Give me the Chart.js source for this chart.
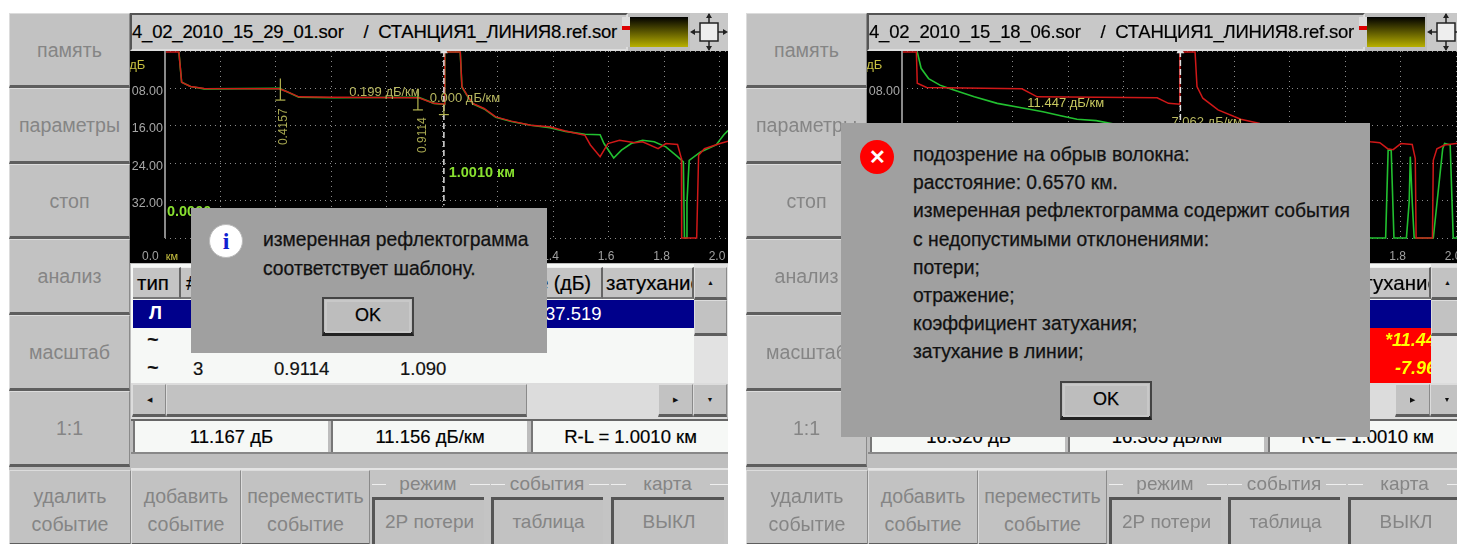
<!DOCTYPE html>
<html lang="ru"><head><meta charset="utf-8">
<style>
html,body{margin:0;padding:0;background:#fff;width:1457px;height:544px;overflow:hidden}
#root{position:absolute;left:0;top:0;width:1457px;height:544px;filter:blur(.55px);font-family:"Liberation Sans",Arial,sans-serif}
.a{position:absolute;box-sizing:border-box;white-space:nowrap}
.btn{background:#c2c2c2;border-top:1px solid #dcdcdc;border-left:1px solid #dcdcdc;border-right:1px solid #8a8a8a;border-bottom:3px solid #5e5e5e;color:#858585;font-size:19.6px;display:flex;align-items:center;justify-content:center;text-align:center;line-height:28px}
.cell{background:#c4c4c4;border-top:1px solid #eee;border-right:2px solid #666;border-bottom:2px solid #777;color:#000;font-size:20.5px;-webkit-text-stroke:.2px #000}
.t{color:#111;font-size:18.5px;line-height:22px;-webkit-text-stroke:.2px #111}
.d{color:#111;font-size:19.3px;line-height:22px;-webkit-text-stroke:.25px #111}
.ok{background:#bdbdbd;border:2px solid #444;border-bottom:4px solid #222;outline:2px solid #c8c8c8;outline-offset:-5px;color:#000;font-size:18px;display:flex;align-items:center;justify-content:center;-webkit-text-stroke:.25px #000}
</style></head><body><div id="root"></div>
<script src="https://cdn.jsdelivr.net/npm/chart.js@4/dist/chart.umd.min.js"></script>
<script>
// --- Data ---
const kmTicksStep = 0.2;
const dbTicks = [8, 16, 24, 32];
const leftRedKm   = [0,0.05,0.06,0.092,0.141,0.412,0.44,0.482,0.607,0.914,0.969,1.008,1.008,1.064,1.07,1.088,1.109,1.15,1.192,1.248,1.318,1.387,1.443,1.513,1.533,1.568,1.596,1.638,1.694,1.721,1.777,1.805,1.847,1.861,1.862,1.916,1.923,1.944,2.0,2.029];
const leftRedDb   = [0.2,0.2,6.7,7.6,8.0,8.1,8.7,9.8,9.9,10.0,11.2,11.4,0.2,0.2,7.6,9.4,11.2,12.3,14.1,15.0,15.9,16.2,17.1,18.0,20.1,22.6,19.8,19.1,19.6,19.4,20.9,19.8,20.0,23.0,40,40,22.3,20.9,19.8,19.3];
const leftGreenKm = [0.05,0.06,0.092,0.141,0.412,0.44,0.482,0.607,0.914,0.969,1.008,1.008,1.064,1.07,1.088,1.109,1.15,1.192,1.248,1.318,1.387,1.443,1.513,1.568,1.582,1.617,1.645,1.68,1.721,1.763,1.805,1.847,1.868,1.872,1.879,1.881,1.889,1.93,1.986,2.014,2.029];
const leftGreenDb = [0.2,6.7,7.6,8.1,8.0,8.7,9.9,10.0,9.9,11.2,11.4,0.2,0.2,7.7,9.5,11.3,12.4,14.2,15.1,15.9,16.4,17.2,17.8,17.9,19.8,22.9,21.2,19.8,19.1,19.4,20.5,22.6,23.7,40,40,32.3,23.4,21.6,20.1,17.9,17];
const rightRedKm  = [0,0.052,0.055,0.089,0.433,0.488,0.921,0.962,1.003,1.003,1.058,1.065,1.086,1.141,1.223,1.292,1.691,1.725,1.753,1.773,1.801,1.842,1.853,1.856,1.915,1.918,1.931,1.959,2.0,2.004];
const rightRedDb  = [0.2,0.2,6.9,7.8,8.1,9.8,10,11.2,11.4,0.2,0.2,7.6,10.1,12.6,14.6,15.5,19.4,19.6,20.9,21.1,19.8,20,23,40,40,23.4,20.9,20.1,19.8,19.8];
const rightGreenKm= [0.055,0.069,0.096,0.137,0.179,0.261,0.344,0.426,0.509,0.577,0.632,0.701,0.756,0.9,1.691,1.746,1.755,1.766,1.776,1.821,1.831,1.835,1.842,1.849,1.918,1.952,1.959,1.979,1.99,2.004];
const rightGreenDb= [0.2,3.7,5.9,7.3,8.2,9.8,11.2,12.1,13,13.9,14.6,14.9,15.5,17,40,40,21.2,21.2,40,40,32.3,22.6,32.3,40,40,20.9,19.8,20.1,40,40];
const cursorKm = 1.005;
const cursorTopDb = [0, 0];
const cursorEndDb = [33, 33];
const markerKm = [0.4157, 0.9114, 1.005];
const markerTopDb = [5.9, 8.0, 11.4];
const markerEndDb = [10.5, 12.6, 13.6];
const sideLabels = ["память","параметры","стоп","анализ","масштаб","1:1"];
const bottomLabels = [["удалить","событие"],["добавить","событие"],["переместить","событие"]];
const groupTitles = ["режим","события","карта"];
const groupValues = ["2Р потери","таблица","ВЫКЛ"];
const leftTitle = "4_02_2010_15_29_01.sor    /  СТАНЦИЯ1_ЛИНИЯ8.ref.sor";
const rightTitle = "4_02_2010_15_18_06.sor    /  СТАНЦИЯ1_ЛИНИЯ8.ref.sor";
const leftMeasures = ["11.167 дБ","11.156 дБ/км","R-L = 1.0010 км"];
const rightMeasures = ["16.320 дБ","16.305 дБ/км","R-L = 1.0010 км"];
const leftNotes = [
 {km:-0.1,db:3,text:"дБ",c:"#c8c040",f:"13px"},
 {km:0.025,db:44,text:"км",c:"#c8c040",f:"11px"},
 {km:0.791,db:8.9,text:"0.199 дБ/км",c:"#b8b860",f:"13px"},
 {km:1.081,db:10.1,text:"0.000 дБ/км",c:"#b8b860",f:"13px"},
 {km:0.429,db:16.2,text:"0.4157",c:"#a8a850",f:"12px",rot:true},
 {km:0.928,db:18,text:"0.9114",c:"#a8a850",f:"12px",rot:true},
 {km:1.142,db:26,text:"1.0010 км",c:"#88e030",f:"bold 14.5px"},
 {km:0.087,db:34.4,text:"0.0000",c:"#88e030",f:"bold 14.5px"}];
const rightNotes = [
 {km:-0.1,db:3,text:"дБ",c:"#c8c040",f:"13px"},
 {km:0.591,db:11.2,text:"11.447 дБ/км",c:"#c8c860",f:"13px"},
 {km:1.1,db:15.3,text:"7.062 дБ/км",c:"#b8b860",f:"13px"}];

// --- Helpers ---
const root = document.getElementById('root');
function el(parent, cls, css, text){
  const d=document.createElement('div'); d.className='a '+cls; d.style.cssText=css;
  if(text!==undefined) d.textContent=text; parent.appendChild(d); return d;
}
const pos=(l,t,w,h)=>`left:${l}px;top:${t}px;width:${w}px;height:${h}px;`;
function pts(xs,ys){return xs.map((x,i)=>({x,y:ys[i]}));}
const noPad=()=>({left:0,top:0,right:0,bottom:0});

const notesPlugin={id:'notes',afterDraw(chart,args,opts){
  const {ctx,scales:{x,y}}=chart;
  (opts.items||[]).forEach(n=>{
    ctx.save();
    ctx.translate(x.getPixelForValue(n.km),y.getPixelForValue(n.db));
    if(n.rot)ctx.rotate(-Math.PI/2);
    ctx.font=n.f+' "Liberation Sans"';ctx.fillStyle=n.c;ctx.textAlign='center';ctx.textBaseline='middle';
    ctx.fillText(n.text,0,0);ctx.restore();
  });
}};

function makeChart(parent,left,width,xMax,red,green,notes,withMarkers){
  const c=document.createElement('canvas');c.width=width;c.height=212;
  c.style.cssText=`position:absolute;left:${left}px;top:38px;width:${width}px;height:212px;background:#000`;
  parent.appendChild(c);
  const yel='#b4b450';
  const datasets=[
    {data:green,borderColor:'#22c030',borderWidth:1.6,pointRadius:0,tension:0,clip:3,order:3},
    {data:red,borderColor:'#d01818',borderWidth:1.5,pointRadius:0,tension:0,clip:3,order:2},
    {data:pts([cursorKm,cursorKm],[cursorTopDb[0],cursorEndDb[0]]),borderColor:'#e0e0e0',borderWidth:1.5,borderDash:[6,3],
      pointRadius:[3,0],pointStyle:'triangle',pointBackgroundColor:'#e0e0e0',pointBorderColor:'#e0e0e0',clip:3,order:1}
  ];
  if(withMarkers) markerKm.forEach((k,i)=>datasets.push({
    data:pts([k,k],[markerTopDb[i],markerEndDb[i]]),borderColor:yel,borderWidth:1.2,
    pointRadius:[0,5],pointStyle:'line',pointBorderColor:yel,pointBorderWidth:1.2,order:0}));
  new Chart(c,{type:'line',data:{datasets},plugins:[notesPlugin],options:{
    responsive:false,animation:false,maintainAspectRatio:false,devicePixelRatio:1,
    layout:{padding:0,autoPadding:false},
    plugins:{legend:{display:false},tooltip:{enabled:false},notes:{items:notes}},
    scales:{
      x:{type:'linear',min:0,max:xMax,
        afterFit(s){s.height=25;s.paddingLeft=0;s.paddingRight=0;s.getPadding=noPad;},
        border:{display:false,dash:[1,4]},
        grid:{color:'#8a8a8a',lineWidth:1,drawTicks:false},
        ticks:{stepSize:kmTicksStep,includeBounds:false,maxRotation:0,autoSkip:false,padding:11,labelOffset:-3,color:'#a0a0a0',
          font:{family:'Liberation Sans',size:12},
          callback:v=>{const s=(+v).toFixed(1);return v===0?s+'       ':s;}}},
      y:{type:'linear',reverse:true,min:0,max:40,
        afterFit(s){s.width=35;s.paddingTop=0;s.paddingBottom=0;s.getPadding=noPad;},
        border:{display:false,dash:[1,4]},
        grid:{color:'#8a8a8a',lineWidth:1,drawTicks:false},
        ticks:{stepSize:8,autoSkip:false,padding:2,labelOffset:3,color:'#a6a6a6',
          font:{family:'Liberation Sans',size:12.5},
          callback:v=>dbTicks.includes(v)?String(v.toFixed(2)).padStart(5,'0'):''}}
    }}});
  el(parent,'',pos(left+34,38,1.5,187)+'background:#8a8a8a');
}

function device(off,w,title,red,green,notes,markers,measures){
  const D=el(root,'',pos(off+9,13,w,531)+'overflow:hidden;background:#bdbdbd');
  const X=v=>v-9, Y=v=>v-13;
  const rows=[13,88,164,239,315,391,467];
  sideLabels.forEach((s,i)=>el(D,'btn',pos(X(9),Y(rows[i]),121,rows[i+1]-rows[i]),s));
  const bx=[9,131,241,370];
  bottomLabels.forEach((p,i)=>{const b=el(D,'btn',pos(X(bx[i]),Y(470),bx[i+1]-bx[i],76)+'white-space:normal;padding-top:5px');b.innerHTML=p.join('<br>');});
  el(D,'',pos(X(130),Y(13),498,38)+'background:#c8c8c8;border:2px solid #555;border-right-color:#ddd;border-bottom-color:#ddd');
  const tt=el(D,'',pos(X(132),Y(15),490,34)+'overflow:hidden;color:#000;font-size:18.5px;letter-spacing:-.2px;line-height:34px;white-space:pre;-webkit-text-stroke:.2px #000');
  tt.textContent=title;
  el(D,'',pos(X(622),Y(17),8,30)+'background:linear-gradient(#ddd 0 30%,#d00 30% 45%,#c8c8c8 45%)');
  el(D,'',pos(X(630),Y(17),58,30)+'background:linear-gradient(#000,#b8b000)');
  const ic=el(D,'',pos(X(690),Y(13),38,38)+'background:#c8c8c8');
  ic.innerHTML='<svg width="38" height="38" viewBox="0 0 38 38"><rect x="10" y="10" width="18" height="18" fill="#eee" stroke="#222" stroke-width="1.5"/><path d="M19 1v9M2 19h8M28 19h8M19 28v9" stroke="#222" stroke-width="1.5"/><path d="M19 0l-3 5h6zM0 19l5-3v6zM38 19l-5-3v6zM19 38l-3-5h6z" fill="#222"/></svg>';
  el(D,'',pos(X(131),Y(264),596,120)+'background:#f6f8f6');
  el(D,'cell',pos(X(133),Y(267),48,32)+'text-align:left;padding-left:4px;line-height:30px','тип');
  el(D,'cell',pos(X(181),Y(267),122,32)+'padding-left:5px;line-height:30px','#');
  el(D,'cell',pos(X(303),Y(267),300,32)+'text-align:right;padding-right:10px;line-height:30px;font-size:19.5px','затухание (дБ)');
  el(D,'cell',pos(X(603),Y(267),91,32)+'overflow:hidden;padding-left:3px;line-height:30px','затухание');
  const nav=el(D,'',pos(X(133),Y(300),561,28)+'background:#00008b;color:#fff;font-size:18.5px;line-height:28px');
  el(nav,'',`left:412px;top:0;color:#fff`,'37.519');
  el(nav,'',`left:16px;top:-1px;color:#fff;font-weight:bold`,'Л');
  el(D,'',pos(X(147),Y(332),18,14)+'color:#111;font-size:20px;line-height:14px;font-weight:bold','~');
  el(D,'',pos(X(147),Y(360),18,14)+'color:#111;font-size:20px;line-height:14px;font-weight:bold','~');
  el(D,'t',`left:${X(193)}px;top:${Y(358)}px`,'3');
  el(D,'t',`left:${X(274)}px;top:${Y(358)}px`,'0.9114');
  el(D,'t',`left:${X(400)}px;top:${Y(358)}px`,'1.090');
  if(off>0){
    el(D,'',pos(X(603),Y(328),91,55)+'background:#f00');
    const r1=el(D,'',pos(X(603),Y(328),91,55)+'overflow:hidden;color:#ff0;font:italic bold 18px "Liberation Sans"');
    el(r1,'','left:45px;top:2px','*11.447');
    el(r1,'','left:55px;top:30px','-7.962');
  }
  el(D,'',pos(X(694),Y(264),34,120)+'background:#e2e2e2');
  el(D,'btn',pos(X(694),Y(267),33,33)+'color:#111;font-size:7px','▲');
  el(D,'btn',pos(X(694),Y(300),33,36),'');
  el(D,'',pos(X(131),Y(383),596,36)+'background:#dcdcdc');
  el(D,'btn',pos(X(132),Y(384),34,33)+'color:#111;font-size:7px','◀');
  el(D,'btn',pos(X(166),Y(384),361,33),'');
  el(D,'btn',pos(X(658),Y(384),35,33)+'color:#111;font-size:7px','▶');
  el(D,'btn',pos(X(693),Y(384),34,33)+'color:#111;font-size:7px','▼');
  el(D,'',pos(X(131),Y(419),597,2)+'background:#666');
  [[133,195],[331,196],[531,197]].forEach((c,i)=>{
    el(D,'',pos(X(c[0]),Y(421),c[1],31)+'background:#f6f8f6;color:#000;font-size:18.5px;line-height:31px;text-align:center;border-left:2px solid #777;-webkit-text-stroke:.2px #000',measures[i]);
  });
  el(D,'',pos(X(131),Y(452),597,18)+'background:#bebebe;border-top:2px solid #888;border-bottom:2px solid #e4e4e4');
  const gx=[372,491,611], gw=[112,112,113];
  el(D,'',pos(X(370),Y(470),358,74)+'background:#c4c4c4');
  groupTitles.forEach((g,i)=>{
    el(D,'',pos(X(gx[i]),Y(484),gw[i]+6,1)+'background:#eee');
    el(D,'',pos(X(gx[i]+(gw[i]-84)/2),Y(473),84,22)+'background:#c4c4c4;color:#858585;font-size:19px;line-height:22px;text-align:center',g);
    el(D,'',pos(X(gx[i]),Y(497),gw[i],47)+'background:#c2c2c2;border-top:3px solid #555;border-left:3px solid #555;color:#858585;font-size:19px;line-height:44px;text-align:center',groupValues[i]);
  });
  return D;
}

const lRed=pts(leftRedKm,leftRedDb), lGreen=pts(leftGreenKm,leftGreenDb);
const rRed=pts(rightRedKm,rightRedDb), rGreen=pts(rightGreenKm,rightGreenDb);
const L=device(0,719,leftTitle,lRed,lGreen,leftNotes,true,leftMeasures);
const R=device(737,711,rightTitle,rRed,rGreen,rightNotes,false,rightMeasures);
makeChart(L,121,598,(727-165)/277,lRed,lGreen,leftNotes,true);
makeChart(R,121,590,(1457-902)/277,rRed,rGreen,rightNotes,false);

function dialog(l,t,w,h,lines,icon,ix,iy,tx,ty,lh,okx,oky){
  const d=el(root,'',pos(l,t,w,h)+'background:#a0a0a0');
  lines.forEach((s,i)=>el(d,'d',`left:${tx-l}px;top:${ty-t+i*lh}px`,s));
  el(d,'ok',pos(okx-l,oky-t,92,39),'OK');
  el(d,'',pos(ix-l-17,iy-t-17,34,34)+'border-radius:50%;display:flex;align-items:center;justify-content:center;font-weight:bold;'+icon.css,icon.t);
}
dialog(191,208,356,145,["измеренная рефлектограмма","соответствует шаблону."],
  {t:'i',css:'background:#fff;color:#1020d0;font-size:24px;font-family:"Liberation Serif";border:1px solid #bbb'},226,241,263,229,29,322,297);
dialog(841,123,529,314,["подозрение на обрыв волокна:","расстояние: 0.6570 км.","измеренная рефлектограмма содержит события","с недопустимыми отклонениями:","потери;","отражение;","коэффициент затухания;","затухание в линии;"],
  {t:'✕',css:'background:#f00;color:#fff;font-size:20px'},877,157,913,144,28.2,1060,381);
</script></body></html>
